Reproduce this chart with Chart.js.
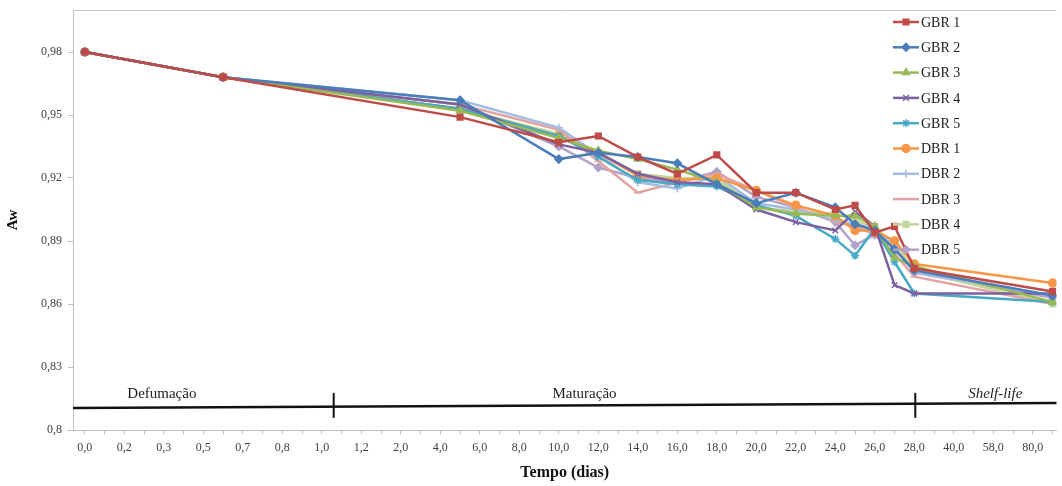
<!DOCTYPE html>
<html>
<head>
<meta charset="utf-8">
<script src="https://cdn.jsdelivr.net/npm/chart.js@4.4.1/dist/chart.umd.min.js"></script>
<style>
  html, body { margin: 0; padding: 0; background: #fff; }
  #box { width: 1062px; height: 486px; }
</style>
</head>
<body>
<div id="box"><canvas id="awChart"></canvas></div>
<script>
// shown tick labels (one every second slot on the axis)
const tickLabels = ["0,0","0,2","0,3","0,5","0,7","0,8","1,0","1,2","2,0","4,0","6,0","8,0","10,0",
  "12,0","14,0","16,0","18,0","20,0","22,0","24,0","26,0","28,0","40,0","58,0","80,0"];
// slot position on the axis of every sampling
const sampleSlots = [0, 7, 19, 24, 26, 28, 30, 32, 34, 36, 38, 39, 40, 41, 42, 49];
const yTicks = [0.80, 0.83, 0.86, 0.89, 0.92, 0.95, 0.98];

const seriesNames = ["GBR 1","GBR 2","GBR 3","GBR 4","GBR 5","DBR 1","DBR 2","DBR 3","DBR 4","DBR 5"];
const gbr1 = [0.980, 0.968, 0.949, 0.937, 0.940, 0.930, 0.922, 0.931, 0.913, 0.913, 0.905, 0.907, 0.894, 0.897, 0.877, 0.866];
const gbr2 = [0.980, 0.968, 0.957, 0.929, 0.932, 0.930, 0.927, 0.917, 0.908, 0.913, 0.906, 0.898, 0.895, 0.886, 0.876, 0.864];
const gbr3 = [0.980, 0.968, 0.952, 0.939, 0.933, 0.929, 0.924, 0.918, 0.906, 0.903, 0.902, 0.902, 0.897, 0.882, 0.878, 0.861];
const gbr4 = [0.980, 0.968, 0.955, 0.936, 0.932, 0.922, 0.918, 0.917, 0.905, 0.899, 0.895, 0.904, 0.897, 0.869, 0.865, 0.865];
const gbr5 = [0.980, 0.968, 0.953, 0.940, 0.930, 0.919, 0.917, 0.916, 0.907, 0.902, 0.891, 0.883, 0.896, 0.880, 0.865, 0.861];
const dbr1 = [0.980, 0.968, 0.953, 0.940, 0.932, 0.921, 0.919, 0.920, 0.914, 0.907, 0.902, 0.895, 0.895, 0.890, 0.879, 0.870];
const dbr2 = [0.980, 0.968, 0.957, 0.944, 0.931, 0.918, 0.915, 0.921, 0.908, 0.905, 0.900, 0.898, 0.896, 0.887, 0.875, 0.864];
const dbr3 = [0.980, 0.968, 0.955, 0.943, 0.928, 0.913, 0.918, 0.922, 0.914, 0.906, 0.899, 0.897, 0.893, 0.884, 0.873, 0.860];
const dbr4 = [0.980, 0.968, 0.953, 0.941, 0.932, 0.922, 0.920, 0.920, 0.906, 0.904, 0.903, 0.900, 0.896, 0.889, 0.876, 0.860];
const dbr5 = [0.980, 0.968, 0.955, 0.935, 0.925, 0.920, 0.918, 0.923, 0.911, 0.906, 0.899, 0.888, 0.893, 0.887, 0.875, 0.863];

const allValues = [gbr1, gbr2, gbr3, gbr4, gbr5, dbr1, dbr2, dbr3, dbr4, dbr5];
const colors = ["#BE4B48","#4A7EBB","#98B954","#7D60A0","#46AAC5","#F79646","#A3BCE0","#E3A3A1","#C4D79B","#B3A2C7"];
const markers = ["rect","rectRot","triangle","crossRot","star","circle","cross","line","rect","rectRot"];

const serif = "'Liberation Serif', 'DejaVu Serif', serif";

const datasets = seriesNames.map((name, i) => ({
  label: name,
  data: allValues[i].map((v, j) => ({ x: sampleSlots[j], y: v })),
  borderColor: colors[i],
  backgroundColor: colors[i],
  borderWidth: 2.5,
  pointStyle: markers[i],
  pointRadius: 4,
  pointBorderWidth: 1.5,
  tension: 0
}));

// phases drawn under the curves: boundaries and labels in axis units
const phaseBounds = [12.6, 42.05];
const phaseLabels = [
  { text: "Defumação", x: 3.9, italic: false },
  { text: "Maturação", x: 25.3, italic: false },
  { text: "Shelf-life", x: 46.1, italic: true }
];

const extras = {
  id: "extras",
  afterDraw(chart) {
    const { ctx, chartArea: a, scales: { x, y } } = chart;
    ctx.save();
    // top frame line
    ctx.strokeStyle = "#c8c8c8";
    ctx.lineWidth = 1;
    ctx.beginPath();
    ctx.moveTo(a.left, a.top + 0.5);
    ctx.lineTo(a.right, a.top + 0.5);
    ctx.stroke();

    // phase line
    ctx.strokeStyle = "#111";
    ctx.lineWidth = 2.5;
    ctx.beginPath();
    ctx.moveTo(a.left, y.getPixelForValue(0.8105));
    ctx.lineTo(a.right, y.getPixelForValue(0.8128));
    ctx.stroke();
    ctx.lineWidth = 2;
    phaseBounds.forEach(b => {
      const px = x.getPixelForValue(b);
      const py = y.getPixelForValue(0.8115);
      ctx.beginPath();
      ctx.moveTo(px, py - 13);
      ctx.lineTo(px, py + 12);
      ctx.stroke();
    });
    ctx.fillStyle = "#222";
    ctx.textAlign = "center";
    ctx.textBaseline = "middle";
    phaseLabels.forEach(p => {
      ctx.font = (p.italic ? "italic " : "") + "15px " + serif;
      ctx.fillText(p.text, x.getPixelForValue(p.x), y.getPixelForValue(0.817));
    });

    // legend
    ctx.textAlign = "left";
    ctx.font = "14px " + serif;
    chart.data.datasets.forEach((ds, i) => {
      const cy = 22 + i * 25.3;
      ctx.strokeStyle = ds.borderColor;
      ctx.lineWidth = 2.5;
      ctx.beginPath();
      ctx.moveTo(893, cy);
      ctx.lineTo(919, cy);
      ctx.stroke();
      ctx.fillStyle = ds.backgroundColor;
      ctx.lineWidth = 1.5;
      Chart.helpers.drawPoint(ctx, { pointStyle: ds.pointStyle, radius: 4, borderWidth: 1.5, rotation: 0 }, 906, cy);
      ctx.fillStyle = "#222";
      ctx.fillText(ds.label, 921, cy + 1);
    });
    ctx.restore();
  }
};

new Chart("awChart", {
  type: "line",
  data: { datasets },
  options: {
    responsive: true,
    maintainAspectRatio: false,
    animation: false,
    layout: { padding: { top: 10, right: 0, bottom: 0, left: 0 } },
    plugins: { legend: { display: false }, tooltip: { enabled: false } },
    scales: {
      x: {
        type: "linear",
        min: -0.6,
        max: 49.2,
        afterBuildTicks(scale) {
          scale.ticks = Array.from({ length: 50 }, (_, i) => ({ value: i }));
        },
        afterFit(scale) { scale.height = 56; },
        grid: { drawOnChartArea: false, tickLength: 4, color: "#bfbfbf" },
        border: { color: "#bfbfbf", width: 1 },
        ticks: {
          autoSkip: false,
          maxRotation: 0,
          padding: 7,
          color: "#404040",
          font: { family: serif, size: 12 },
          callback: v => (v % 2 === 0 ? tickLabels[v / 2] : "")
        },
        title: {
          display: true,
          text: "Tempo (dias)",
          color: "#111",
          padding: { top: 2 },
          font: { family: serif, size: 16, weight: "bold" }
        }
      },
      y: {
        min: 0.8,
        max: 1.0,
        afterBuildTicks(scale) {
          scale.ticks = yTicks.map(v => ({ value: v }));
        },
        afterFit(scale) {
          scale.width = 73;
          scale.paddingTop = 0;
          scale.paddingBottom = 0;
        },
        grid: { drawOnChartArea: false, tickLength: 5, color: "#bfbfbf" },
        border: { color: "#bfbfbf", width: 1 },
        ticks: {
          padding: 6,
          color: "#404040",
          font: { family: serif, size: 12 },
          callback: v => String(Number(v.toFixed(2))).replace(".", ",")
        },
        title: {
          display: true,
          text: "Aw",
          color: "#111",
          padding: { bottom: 6 },
          font: { family: serif, size: 15, weight: "bold" }
        }
      }
    }
  },
  plugins: [extras]
});
</script>
</body>
</html>
